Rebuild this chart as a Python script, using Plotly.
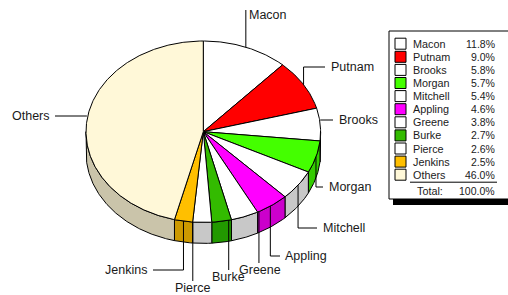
import numpy as np
import plotly.graph_objects as go

# ---------------- data ----------------
labels = ["Macon", "Putnam", "Brooks", "Morgan", "Mitchell", "Appling",
          "Greene", "Burke", "Pierce", "Jenkins", "Others"]
values = [11.8, 9.0, 5.8, 5.7, 5.4, 4.6, 3.8, 2.7, 2.6, 2.5, 46.0]
top_colors = ["#FFFFFF", "#FF0000", "#FFFFFF", "#44FF00", "#FFFFFF", "#FF00FF",
              "#FFFFFF", "#33BB00", "#FFFFFF", "#FFBF00", "#FFF8D8"]
side_colors = ["#C8C8C8", "#CC0000", "#C8C8C8", "#33CC00", "#C8C8C8", "#CC00CC",
               "#C8C8C8", "#229900", "#C8C8C8", "#CC9900", "#CAC4AA"]
total_label = "Total:"

# ---------------- geometry (pixels) ----------------
W, H = 508, 295
cx, cy, rx, ry, depth = 203.3, 131.7, 117.3, 90.7, 21.0

# label routing (layout only)
label_layout = {
    "Macon":    dict(kind="up",    turn=10,  end=None, tx=1,   ty=15,  anchor="left",  shift=0),
    "Putnam":   dict(kind="upr",   turn=67,  end=325,  tx=329, ty=67,  anchor="left",  shift=0),
    "Brooks":   dict(kind="right", turn=None, end=333, tx=337, ty=120, anchor="left",  shift=0),
    "Morgan":   dict(kind="downr", turn=187, end=323,  tx=327, ty=187, anchor="left",  shift=0),
    "Mitchell": dict(kind="downr", turn=228, end=317,  tx=321, ty=228, anchor="left",  shift=0),
    "Appling":  dict(kind="downr", turn=256, end=280,  tx=283, ty=256, anchor="left",  shift=1),
    "Greene":   dict(kind="down",  turn=263, end=None, tx=1,   ty=270, anchor="center", shift=-7.6),
    "Burke":    dict(kind="down",  turn=270, end=None, tx=0,   ty=277, anchor="center", shift=-3.5),
    "Pierce":   dict(kind="down",  turn=281, end=None, tx=0,   ty=288, anchor="center", shift=4.6),
    "Jenkins":  dict(kind="downl", turn=270, end=153,  tx=149, ty=270, anchor="right", shift=0),
    "Others":   dict(kind="left",  turn=None, end=55,  tx=52,  ty=116, anchor="right", shift=0),
}

FONT = "Liberation Sans, Arial, sans-serif"
TXT = "#1a1a1a"


def pt(theta_deg, r=1.0):
    t = np.radians(theta_deg)
    return cx + r * rx * np.sin(t), cy - r * ry * np.cos(t)


total = sum(values)
cum = np.concatenate([[0.0], np.cumsum(values)]) / total * 360.0

fig = go.Figure()

# sides (front half only)
for i in range(len(values)):
    a0, a1 = cum[i], cum[i + 1]
    s0, s1 = max(a0, 90.0), min(a1, 270.0)
    if s1 <= s0:
        continue
    th = np.linspace(s0, s1, max(3, int((s1 - s0) * 2)))
    xs, ys = pt(th)
    px = list(xs) + list(xs[::-1]) + [xs[0]]
    py = list(ys) + list(ys[::-1] + depth) + [ys[0]]
    fig.add_trace(go.Scatter(x=px, y=py, mode="lines", fill="toself",
                             fillcolor=side_colors[i],
                             line=dict(color="#000000", width=1),
                             hoverinfo="skip", showlegend=False))

# top faces
for i in range(len(values)):
    a0, a1 = cum[i], cum[i + 1]
    th = np.linspace(a0, a1, max(3, int((a1 - a0) * 2)))
    xs, ys = pt(th)
    px = [cx] + list(xs) + [cx]
    py = [cy] + list(ys) + [cy]
    fig.add_trace(go.Scatter(x=px, y=py, mode="lines", fill="toself",
                             fillcolor=top_colors[i],
                             line=dict(color="#000000", width=1),
                             hoverinfo="skip", showlegend=False))

annotations = []
# leader lines and labels
for i, name in enumerate(labels):
    L = label_layout[name]
    mid = (cum[i] + cum[i + 1]) / 2 + L["shift"]
    x0, y0 = pt(mid)
    k = L["kind"]
    if k in ("up", "down"):
        lx, ly = [x0, x0], [y0, L["turn"]]
    elif k in ("upr", "downr", "downl"):
        lx, ly = [x0, x0, L["end"]], [y0, L["turn"], L["turn"]]
    else:
        lx, ly = [x0, L["end"]], [L["ty"], L["ty"]]
    fig.add_trace(go.Scatter(x=lx, y=ly, mode="lines",
                             line=dict(color="#000000", width=1),
                             hoverinfo="skip", showlegend=False))
    tx = x0 + L["tx"] if k in ("up", "down") else L["tx"]
    ty = L["ty"]
    annotations.append(dict(x=tx, y=ty, text=name, showarrow=False,
                            xanchor=L["anchor"], yanchor="middle",
                            font=dict(family=FONT, size=12.5, color=TXT)))

# ---------------- legend box ----------------
bx0, by0, bx1, by1 = 389, 31, 512, 199
shapes = [
    dict(type="rect", x0=bx0 + 4, y0=by0 + 5, x1=bx1 + 5, y1=by1 + 6,
         fillcolor="#000000", line=dict(width=0), layer="below"),
    dict(type="rect", x0=bx0, y0=by0, x1=bx1, y1=by1,
         fillcolor="#FFFFFF", line=dict(color="#000000", width=1), layer="below"),
]
row0, dy = 43.7, 13.1
rows_y = [row0 + j * dy for j in range(len(labels))]
fig.add_trace(go.Scatter(x=[400.5] * len(labels), y=rows_y, mode="markers",
                         marker=dict(symbol="square", size=11, color=top_colors,
                                     line=dict(color="#000000", width=1)),
                         hoverinfo="skip", showlegend=False))
for j, name in enumerate(labels):
    annotations.append(dict(x=411, y=rows_y[j], text=name, showarrow=False,
                            xanchor="left", yanchor="middle",
                            font=dict(family=FONT, size=10.8, color=TXT)))
    annotations.append(dict(x=497, y=rows_y[j], text=f"{values[j] / total * 100:.1f}%",
                            showarrow=False, xanchor="right", yanchor="middle",
                            font=dict(family=FONT, size=10.5, color=TXT)))
sep_y = rows_y[-1] + 7.5
shapes.append(dict(type="line", x0=410, x1=497, y0=sep_y, y1=sep_y,
                   line=dict(color="#000000", width=1)))
annotations.append(dict(x=415, y=sep_y + 8.5, text=total_label, showarrow=False,
                        xanchor="left", yanchor="middle",
                        font=dict(family=FONT, size=10.8, color=TXT)))
annotations.append(dict(x=497, y=sep_y + 8.5, text=f"{total / total * 100:.1f}%",
                        showarrow=False, xanchor="right", yanchor="middle",
                        font=dict(family=FONT, size=10.5, color=TXT)))

fig.update_layout(
    width=W, height=H, autosize=False,
    margin=dict(l=0, r=0, t=0, b=0, pad=0),
    paper_bgcolor="#FFFFFF", plot_bgcolor="#FFFFFF",
    xaxis=dict(range=[0, W], visible=False, fixedrange=True),
    yaxis=dict(range=[H, 0], visible=False, fixedrange=True),
    shapes=shapes, annotations=annotations,
)

fig.write_html("out.html", post_script="document.body.style.margin='0';",
               config={"displayModeBar": False})
